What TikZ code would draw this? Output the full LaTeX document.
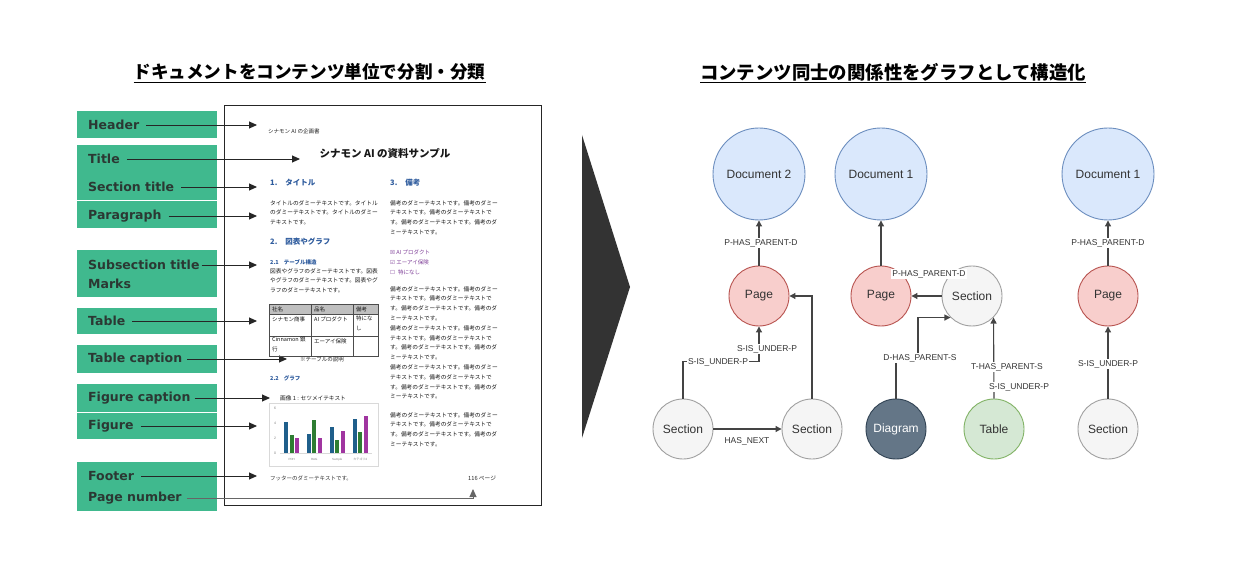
\documentclass[tikz,border=0pt]{standalone}
\usepackage{fontspec}
\usetikzlibrary{arrows.meta,calc}
\newfontfamily\jp{Noto Sans CJK JP}
\newfontfamily\labfont{DejaVu Sans}
\newfontfamily\arialf{Liberation Sans}
\newfontfamily\symf{DejaVu Sans}
\definecolor{gbox}{HTML}{40B98E}
\definecolor{labtxt}{HTML}{2B3833}
\definecolor{hblue}{HTML}{2F5C9E}
\definecolor{mpurple}{HTML}{7F3F98}
\definecolor{docfill}{HTML}{DAE8FC}
\definecolor{docline}{HTML}{6C8EBF}
\definecolor{pagefill}{HTML}{F8CECC}
\definecolor{pageline}{HTML}{B85450}
\definecolor{secfill}{HTML}{F5F5F5}
\definecolor{secline}{HTML}{A0A0A0}
\definecolor{diafill}{HTML}{647687}
\definecolor{dialine}{HTML}{314354}
\definecolor{tabfill}{HTML}{D5E8D4}
\definecolor{tabline}{HTML}{82B366}
\definecolor{edgec}{HTML}{444444}
\definecolor{barb}{HTML}{1F5F8B}
\definecolor{barg}{HTML}{2E7D32}
\definecolor{barp}{HTML}{A035A0}
\begin{document}
\begin{tikzpicture}[x=1pt,y=-1pt,
  lab/.style={font=\labfont\bfseries\fontsize{12.5}{14}\selectfont, text=labtxt, anchor=west, inner sep=0pt},
  larr/.style={draw=black!85, line width=0.9pt, -{Triangle[length=8pt,width=7pt]}},
  ptxt/.style={font=\jp\fontsize{5.7}{9.8}\selectfont, text=black!90, anchor=north west, inner sep=0pt, align=left},
  phead/.style={font=\jp\bfseries\fontsize{7.5}{9}\selectfont, text=hblue, anchor=west, inner sep=0pt},
  psub/.style={font=\jp\bfseries\fontsize{5.5}{7}\selectfont, text=hblue, anchor=west, inner sep=0pt},
  cell/.style={font=\jp\fontsize{5.5}{9.8}\selectfont, text=black!90, anchor=west, inner sep=0pt, align=left},
  gnode/.style={circle, line width=0.9pt, font=\arialf\fontsize{12}{14}\selectfont, text=black!80, inner sep=0pt},
  docn/.style={gnode, minimum size=92pt, fill=docfill, draw=docline},
  pagen/.style={gnode, minimum size=60pt, fill=pagefill, draw=pageline},
  secn/.style={gnode, minimum size=60pt, fill=secfill, draw=secline},
  edge/.style={draw=edgec, line width=1.1pt, -{Triangle[length=6pt,width=6pt]}},
  elab/.style={font=\arialf\fontsize{8.5}{10}\selectfont, text=black!80, fill=white, inner sep=1pt}
]
\useasboundingbox (0,0) rectangle (1234,561);
\fill[white] (0,0) rectangle (1234,561);

% ---------- titles ----------
\node[font=\jp\bfseries\fontsize{17.6}{20}\selectfont, text=black] (ltitle) at (309.5,73) {\underline{ドキュメントをコンテンツ単位で分割・分類}};
\node[font=\jp\bfseries\fontsize{18.4}{20}\selectfont, text=black] (rtitle) at (893,73) {\underline{コンテンツ同士の関係性をグラフとして構造化}};

% ---------- green boxes ----------
\fill[gbox] (77,111) rectangle (217,138);
\fill[gbox] (77,145) rectangle (217,200);
\fill[gbox] (77,201) rectangle (217,228);
\fill[gbox] (77,250) rectangle (217,297);
\fill[gbox] (77,308) rectangle (217,334);
\fill[gbox] (77,345) rectangle (217,373);
\fill[gbox] (77,384) rectangle (217,412);
\fill[gbox] (77,413) rectangle (217,439);
\fill[gbox] (77,462) rectangle (217,511);

\node[lab] (lHeader) at (88,125) {Header};
\node[lab] (lTitle) at (88,159) {Title};
\node[lab] (lSec) at (88,187) {Section title};
\node[lab] (lPara) at (88,216) {Paragraph};
\node[lab] (lSub) at (88,265) {Subsection title};
\node[lab] (lMarks) at (88,284) {Marks};
\node[lab] (lTab) at (88,321) {Table};
\node[lab] (lTabC) at (88,359) {Table caption};
\node[lab] (lFigC) at (88,398) {Figure caption};
\node[lab] (lFig) at (88,426) {Figure};
\node[lab] (lFoot) at (88,476) {Footer};
\node[lab] (lPN) at (88,498) {Page number};

% ---------- page ----------
\draw[black!85, line width=0.9pt] (224,105) rectangle (541,505);

\coordinate (tH) at (257,125);
\coordinate (tT) at (300,159);
\coordinate (tS) at (257,187);
\coordinate (tP) at (257,216);
\coordinate (tSub) at (257,265);
\coordinate (tTab) at (257,321);
\coordinate (tTC) at (287,359);
\coordinate (tFC) at (270,398);
\coordinate (tF) at (257,426);
\coordinate (tFo) at (257,476);
\coordinate (tPN) at (473,489);

\draw[larr] ([xshift=7pt]lHeader.east) -- (tH);
\draw[larr] ([xshift=7pt]lTitle.east) -- (tT);
\draw[larr] ([xshift=7pt]lSec.east) -- (tS);
\draw[larr] ([xshift=7pt]lPara.east) -- (tP);
\draw[larr] ([xshift=2pt]lSub.east) -- (tSub);
\draw[larr] ([xshift=7pt]lTab.east) -- (tTab);
\draw[larr] ([xshift=5pt]lTabC.east) -- (tTC);
\draw[larr] ([xshift=4pt]lFigC.east) -- (tFC);
\draw[larr] ([xshift=7pt]lFig.east) -- (tF);
\draw[larr] ([xshift=7pt]lFoot.east) -- (tFo);
\draw[larr, draw=black!60] ([xshift=5pt]lPN.east) -| (tPN);

% page content
\node[font=\jp\fontsize{5.5}{7}\selectfont, text=black!85, anchor=west, inner sep=0pt] (phdr) at (268,131) {シナモン AI の企画書};
\node[font=\jp\bfseries\fontsize{10.5}{12}\selectfont, text=black!90, inner sep=0pt] (ptitle) at (385,153) {シナモン AI の資料サンプル};
\node[phead] (h1) at (270,183) {1.\hspace{8pt}タイトル};
\node[phead] (h3) at (390,183) {3.\hspace{8pt}備考};
\node[ptxt] (para1) at (270,200) {タイトルのダミーテキストです。タイトル\\のダミーテキストです。タイトルのダミー\\テキストです。};
\node[ptxt] (para3) at (390,200) {備考のダミーテキストです。備考のダミー\\テキストです。備考のダミーテキストで\\す。備考のダミーテキストです。備考のダ\\ミーテキストです。};
\node[phead] (h2) at (270,242) {2.\hspace{8pt}図表やグラフ};
\node[psub] (h21) at (270,262) {2.1\hspace{5pt}テーブル構造};
\node[ptxt] (para2) at (270,268) {図表やグラフのダミーテキストです。図表\\やグラフのダミーテキストです。図表やグ\\ラフのダミーテキストです。};
\node[font=\jp\fontsize{5.5}{7}\selectfont, text=mpurple, anchor=west, inner sep=0pt] (m1) at (390,252) {{\symf ☒} AI プロダクト};
\node[font=\jp\fontsize{5.5}{7}\selectfont, text=mpurple, anchor=west, inner sep=0pt] (m2) at (390,262) {{\symf ☑} エーアイ保険};
\node[font=\jp\fontsize{5.5}{7}\selectfont, text=mpurple, anchor=west, inner sep=0pt] (m3) at (390,272) {{\symf ☐}\hspace{3pt}特になし};
\node[ptxt] (para4) at (390,286) {備考のダミーテキストです。備考のダミー\\テキストです。備考のダミーテキストで\\す。備考のダミーテキストです。備考のダ\\ミーテキストです。\\備考のダミーテキストです。備考のダミー\\テキストです。備考のダミーテキストで\\す。備考のダミーテキストです。備考のダ\\ミーテキストです。\\備考のダミーテキストです。備考のダミー\\テキストです。備考のダミーテキストで\\す。備考のダミーテキストです。備考のダ\\ミーテキストです。};
\node[ptxt] (para5) at (390,412) {備考のダミーテキストです。備考のダミー\\テキストです。備考のダミーテキストで\\す。備考のダミーテキストです。備考のダ\\ミーテキストです。};

% table
\fill[black!25] (269,304) rectangle (378,314);
\draw[black!70, line width=0.6pt] (269,304) rectangle (378,356);
\draw[black!70, line width=0.5pt] (269,314) -- (378,314) (269,336) -- (378,336) (311,304) -- (311,356) (353,304) -- (353,356);
\node[cell] (c11) at (272,309) {社名};
\node[cell] (c12) at (314,309) {品名};
\node[cell] (c13) at (356,309) {備考};
\node[cell] (c21) at (272,319) {シナモン商事};
\node[cell] (c22) at (314,319) {AI プロダクト};
\node[cell, anchor=north west] (c23) at (356,316) {特にな\\し};
\node[cell, anchor=north west] (c31) at (272,337) {Cinnamon 銀\\行};
\node[cell] (c32) at (314,341) {エーアイ保険};
\node[font=\jp\fontsize{5.5}{7}\selectfont, text=black!85, anchor=west, inner sep=0pt] (tcap) at (300,359) {※テーブルの説明};
\node[psub] (h22) at (270,378) {2.2\hspace{5pt}グラフ};
\node[font=\jp\fontsize{5.7}{7}\selectfont, text=black!90, anchor=west, inner sep=0pt] (fcap) at (280,398) {画像 1 : セツメイテキスト};

% chart
\draw[black!15, line width=0.5pt] (269,403) rectangle (378,466);
\foreach \v/\yy in {0/453,2/438,4/423,6/408}{
  \node[font=\arialf\fontsize{3.5}{4}\selectfont, text=black!50, inner sep=0pt] at (275,\yy) {\v};
}
\foreach \cx/\hb/\hg/\hp in {291.7/4.2/2.4/2.0, 314.3/2.5/4.4/2.0, 337.3/3.5/1.8/3.0, 360.3/4.5/2.8/5.0}{
  \fill[barb] (\cx-7.3,453) rectangle (\cx-3.3,453-7.5*\hb);
  \fill[barg] (\cx-2,453) rectangle (\cx+2,453-7.5*\hg);
  \fill[barp] (\cx+3.3,453) rectangle (\cx+7.3,453-7.5*\hp);
}
\draw[black!15, line width=0.3pt] (280,453.3) -- (372,453.3);
\node[font=\arialf\fontsize{3}{4}\selectfont, text=black!50, inner sep=0pt] (cat1) at (291.7,459.5) {PDH};
\node[font=\arialf\fontsize{3}{4}\selectfont, text=black!50, inner sep=0pt] (cat2) at (314.3,459.5) {RAG};
\node[font=\arialf\fontsize{3}{4}\selectfont, text=black!50, inner sep=0pt] (cat3) at (337.3,459.5) {Sample};
\node[font=\jp\fontsize{3}{4}\selectfont, text=black!50, inner sep=0pt] (cat4) at (360.3,459.5) {カテゴリ4};

\node[font=\jp\fontsize{5.5}{7}\selectfont, text=black!80, anchor=west, inner sep=0pt] (foot) at (270,478) {フッターのダミーテキストです。};
\node[font=\jp\fontsize{5.7}{7}\selectfont, text=black!85, anchor=west, inner sep=0pt] (pnum) at (468,478) {116 ページ};

% ---------- big arrow ----------
\fill[black!80] (582,135) -- (630,287) -- (582,438) -- cycle;

% ---------- graph ----------
\node[docn] (d2) at (759,174) {Document 2};
\node[docn] (d1) at (881,174) {Document 1};
\node[docn] (d3) at (1108,174) {Document 1};
\node[pagen] (p1) at (759,296) {Page};
\node[pagen] (p2) at (881,296) {Page};
\node[pagen] (p3) at (1108,296) {Page};
\node[secn] (sm) at (972,296) {Section};
\node[secn] (s1) at (683,429) {Section};
\node[secn] (s2) at (812,429) {Section};
\node[gnode, minimum size=60pt, fill=diafill, draw=dialine, text=white] (dia) at (896,429) {Diagram};
\node[gnode, minimum size=60pt, fill=tabfill, draw=tabline] (tab) at (994,429) {Table};
\node[secn] (s5) at (1108,429) {Section};

\draw[edge] (p1.north) -- (d2.south);
\draw[edge] (p2.north) -- (d1.south);
\draw[edge] (p3.north) -- (d3.south);
\draw[edge] (s5.north) -- (p3.south);
\draw[edge] (sm.west) -- (p2.east);
\draw[edge] (s1.north) -- ++(0,-37) -| (p1.south);
\draw[edge] (s2.north) |- (p1.east);
\draw[edge] (s1.east) -- (s2.west);
\draw[edge] (dia.north) -- ++(0,-41) -- ++(22,0) |- (sm.225);
\draw[edge] (tab.north) -- (sm.-45);

\node[elab] (e1) at (761,243) {P-HAS\_PARENT-D};
\node[elab] (e2) at (929,274) {P-HAS\_PARENT-D};
\node[elab] (e3) at (1108,243) {P-HAS\_PARENT-D};
\node[elab] (e4) at (1108,364) {S-IS\_UNDER-P};
\node[elab] (e5) at (718,362) {S-IS\_UNDER-P};
\node[elab] (e6) at (767,349) {S-IS\_UNDER-P};
\node[elab, fill=none] (e7) at (747,441) {HAS\_NEXT};
\node[elab] (e8) at (920,358) {D-HAS\_PARENT-S};
\node[elab] (e9) at (1007,367) {T-HAS\_PARENT-S};
\node[elab] (e10) at (1019,387) {S-IS\_UNDER-P};
\end{tikzpicture}
\end{document}
